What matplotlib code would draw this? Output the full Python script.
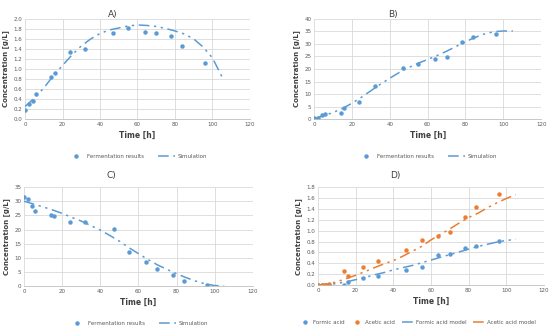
import numpy as np
import matplotlib.pyplot as plt

# measured times [h]
t_exp = [0, 2, 4, 6, 14, 16, 24, 32, 47, 55, 64, 70, 78, 84, 96]
# simulation times [h]
t_sim = [0, 5, 10, 15, 20, 25, 30, 35, 40, 45, 50, 55, 60, 65, 70, 75, 80, 85, 90, 95, 100, 105]

# A) biomass
a_exp = [0.19, 0.31, 0.36, 0.50, 0.84, 0.92, 1.34, 1.40, 1.72, 1.82, 1.74, 1.71, 1.65, 1.46, 1.12]
a_sim = [0.25, 0.42, 0.62, 0.86, 1.07, 1.28, 1.46, 1.60, 1.71, 1.78, 1.82, 1.86, 1.88, 1.87,
         1.85, 1.81, 1.76, 1.70, 1.60, 1.44, 1.22, 0.85]

# B) product
b_exp = [0.3, 0.4, 1.6, 2.1, 2.4, 4.4, 6.7, 13.1, 20.3, 21.8, 23.8, 24.6, 30.8, 32.9, 34.0]
b_sim = [0.2, 1.3, 2.6, 4.2, 6.3, 8.7, 11.3, 13.9, 16.3, 18.6, 20.6, 22.3, 23.8, 25.4,
         27.1, 29.0, 30.9, 32.6, 34.0, 34.9, 35.2, 35.2]

# C) substrate
c_exp = [31.4, 30.9, 28.4, 26.5, 25.3, 24.7, 22.7, 22.5, 20.2, 11.9, 8.6, 6.0, 4.1, 1.8, 0.3]
c_sim = [30.0, 29.0, 28.0, 26.9, 25.7, 24.3, 23.0, 21.4, 19.8, 17.9, 15.9, 13.6, 11.5, 9.4,
         7.5, 5.9, 4.4, 3.0, 1.8, 0.8, 0.2, 0.0]

# D) by-products
formic_exp = [0, 0, 0, 0, 0.0, 0.055, 0.14, 0.17, 0.27, 0.33, 0.55, 0.57, 0.68, 0.72, 0.81]
acetic_exp = [0, 0, 0, 0.02, 0.26, 0.16, 0.34, 0.44, 0.645, 0.82, 0.90, 0.98, 1.25, 1.44, 1.68]
formic_sim = [0.0, 0.01, 0.03, 0.06, 0.10, 0.14, 0.19, 0.23, 0.28, 0.32, 0.36, 0.41, 0.46, 0.51,
              0.56, 0.61, 0.66, 0.71, 0.75, 0.79, 0.82, 0.84]
acetic_sim = [0.0, 0.02, 0.06, 0.12, 0.18, 0.25, 0.32, 0.39, 0.45, 0.53, 0.62, 0.71, 0.83, 0.93,
              1.03, 1.14, 1.24, 1.32, 1.42, 1.51, 1.59, 1.66]

blue = '#5B9BD5'
orange = '#ED7D31'
dashdot2 = (0, (7, 3, 1.5, 3, 1.5, 3))

fig = plt.figure(figsize=(5.5, 3.27), dpi=100)
fig.patch.set_facecolor('white')


def style_ax(ax, ylim, ystep, fmt):
    ax.set_xlim(0, 120)
    ax.set_ylim(*ylim)
    ax.set_xticks(range(0, 121, 20))
    yt = np.arange(ylim[0], ylim[1] + ystep / 2, ystep)
    ax.set_yticks(yt)
    ax.set_yticklabels([fmt.format(v) for v in yt])
    ax.grid(True, color='#D9D9D9', linewidth=0.6)
    ax.set_axisbelow(True)
    for s in ['top', 'right', 'left']:
        ax.spines[s].set_visible(False)
    ax.spines['bottom'].set_color('#BFBFBF')
    ax.spines['bottom'].set_linewidth(0.6)
    ax.tick_params(length=0, labelsize=4, colors='#595959', pad=2)
    ax.set_xlabel('Time [h]', fontsize=5.5, fontweight='bold', color='#404040', labelpad=3)
    ax.set_ylabel('Concentration [g/L]', fontsize=5, fontweight='semibold', color='#404040',
                  labelpad=3)


def legend_simple(ax):
    ax.legend(['Fermentation results', 'Simulation'], loc='upper center',
              bbox_to_anchor=(0.5, -0.3), ncol=2, frameon=False, fontsize=4,
              handlelength=3, handletextpad=0.5, columnspacing=2.5, labelcolor='#595959')


# A
ax = fig.add_axes([0.0455, 0.636, 0.409, 0.306])
ax.plot(t_exp, a_exp, 'o', color=blue, markersize=2.2, linestyle='none')
ax.plot(t_sim, a_sim, color=blue, linestyle=dashdot2, linewidth=1.1)
style_ax(ax, (0, 2.0), 0.2, '{:.1f}')
legend_simple(ax)
fig.text(113 / 550, 1 - 15 / 327, 'A)', fontsize=6.5, ha='center', va='center', color='#404040')

# B
ax = fig.add_axes([0.571, 0.636, 0.413, 0.306])
ax.plot(t_exp, b_exp, 'o', color=blue, markersize=2.2, linestyle='none')
ax.plot(t_sim, b_sim, color=blue, linestyle=dashdot2, linewidth=1.1)
style_ax(ax, (0, 40), 5, '{:.0f}')
legend_simple(ax)
fig.text(393 / 550, 1 - 15 / 327, 'B)', fontsize=6.5, ha='center', va='center', color='#404040')

# C
ax = fig.add_axes([0.0436, 0.125, 0.416, 0.303])
ax.plot(t_exp, c_exp, 'o', color=blue, markersize=2.2, linestyle='none')
ax.plot(t_sim, c_sim, color=blue, linestyle=dashdot2, linewidth=1.1)
style_ax(ax, (0, 35), 5, '{:.0f}')
legend_simple(ax)
fig.text(111 / 550, 1 - 176 / 327, 'C)', fontsize=6.5, ha='center', va='center', color='#404040')

# D
ax = fig.add_axes([0.578, 0.128, 0.411, 0.300])
ax.plot(t_exp, formic_exp, 'o', color=blue, markersize=2.2, linestyle='none')
ax.plot(t_exp, acetic_exp, 'o', color=orange, markersize=2.2, linestyle='none')
ax.plot(t_sim, formic_sim, color=blue, linestyle=dashdot2, linewidth=1.1)
ax.plot(t_sim, acetic_sim, color=orange, linestyle=dashdot2, linewidth=1.1)
style_ax(ax, (0, 1.8), 0.2, '{:.1f}')
ax.legend(['Formic acid', 'Acetic acid', 'Formic acid model', 'Acetic acid model'],
          loc='upper center', bbox_to_anchor=(0.44, -0.3), ncol=4, frameon=False, fontsize=4,
          handlelength=2.2, handletextpad=0.3, columnspacing=1.2, labelcolor='#595959')
fig.text(395 / 550, 1 - 176 / 327, 'D)', fontsize=6.5, ha='center', va='center', color='#404040')

fig.savefig('out.png', dpi=100)
